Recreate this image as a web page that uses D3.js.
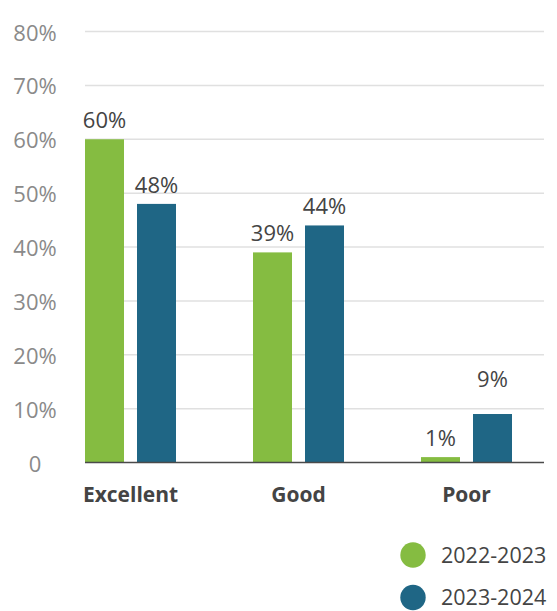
<!DOCTYPE html>
<html>
<head>
<meta charset="utf-8">
<script src="https://cdn.jsdelivr.net/npm/d3@7"></script>
<style>
  html, body { margin: 0; padding: 0; background: #fff; }
  svg { display: block; }
  text { font-family: "Open Sans", "Noto Sans", sans-serif; }
</style>
</head>
<body>
<svg id="chart" width="557" height="611"></svg>
<script>
// Ratings by survey year (percent of responses)
const categories = ["Excellent", "Good", "Poor"];
const seriesNames = ["2022-2023", "2023-2024"];
const values2022 = [60, 39, 1];
const values2023 = [48, 44, 9];
const yTicks = [0, 10, 20, 30, 40, 50, 60, 70, 80];
const seriesColors = ["#85bc41", "#1f6685"];

const seriesValues = [values2022, values2023];
const rows = categories.map((c, i) => ({
  category: c,
  values: seriesNames.map((s, j) => ({ series: s, category: c, value: seriesValues[j][i], color: seriesColors[j] }))
}));

const svg = d3.select("#chart");

const plotLeft = 85, plotRight = 544;
const y = d3.scaleLinear().domain([0, 80]).range([462.5, 31.5]);

const step = 168, groupWidth = 91;
const x0 = d3.scaleBand()
  .domain(categories)
  .range([85, 85 + 2 * step + groupWidth])
  .paddingInner(1 - groupWidth / step)
  .paddingOuter(0);
const x1 = d3.scaleBand()
  .domain(seriesNames)
  .range([0, x0.bandwidth()])
  .paddingInner(0.25)
  .paddingOuter(0);

// Gridlines
svg.append("g")
  .selectAll("line")
  .data(yTicks.filter(t => t > 0))
  .join("line")
  .attr("x1", plotLeft).attr("x2", plotRight)
  .attr("y1", d => y(d)).attr("y2", d => y(d))
  .attr("stroke", "#e0e0e0")
  .attr("stroke-width", 1.5);

// Y tick labels
svg.append("g")
  .selectAll("text")
  .data(yTicks)
  .join("text")
  .attr("x", 35)
  .attr("y", d => y(d) + 9)
  .attr("text-anchor", "middle")
  .attr("font-size", 22)
  .attr("fill", "#8a8a8a")
  .text(d => d === 0 ? "0" : d + "%");

// Bars
const groups = svg.append("g")
  .selectAll("g")
  .data(rows)
  .join("g")
  .attr("transform", d => `translate(${x0(d.category)},0)`);

groups.selectAll("rect")
  .data(d => d.values)
  .join("rect")
  .attr("x", d => x1(d.series))
  .attr("width", x1.bandwidth())
  .attr("y", d => y(d.value))
  .attr("height", d => y(0) - y(d.value))
  .attr("fill", d => d.color);

// Value labels; the short "Poor" 2023-2024 label is lifted clear of its neighbour
groups.selectAll("text")
  .data(d => d.values)
  .join("text")
  .attr("x", d => x1(d.series) + x1.bandwidth() / 2)
  .attr("y", d => y(d.value) - 11 - (d.category === "Poor" && d.series === "2023-2024" ? 16 : 0))
  .attr("text-anchor", "middle")
  .attr("font-size", 22)
  .attr("fill", "#444")
  .text(d => d.value + "%");

// Baseline
svg.append("line")
  .attr("x1", plotLeft).attr("x2", plotRight)
  .attr("y1", y(0)).attr("y2", y(0))
  .attr("stroke", "#4a4a4a")
  .attr("stroke-width", 1.5);

// Category labels
svg.append("g")
  .selectAll("text")
  .data(categories)
  .join("text")
  .attr("x", d => x0(d) + x0.bandwidth() / 2)
  .attr("y", 502)
  .attr("text-anchor", "middle")
  .attr("font-size", 21)
  .attr("font-weight", "bold")
  .attr("fill", "#444")
  .text(d => d);

// Legend
const legend = svg.append("g")
  .selectAll("g")
  .data(seriesNames)
  .join("g")
  .attr("transform", (d, i) => `translate(413,${555 + i * 42.5})`);
legend.append("circle")
  .attr("r", 12.7)
  .attr("fill", (d, i) => seriesColors[i]);
legend.append("text")
  .attr("x", 28)
  .attr("y", 7.5)
  .attr("font-size", 21.5)
  .attr("fill", "#444")
  .text(d => d);
</script>
</body>
</html>
